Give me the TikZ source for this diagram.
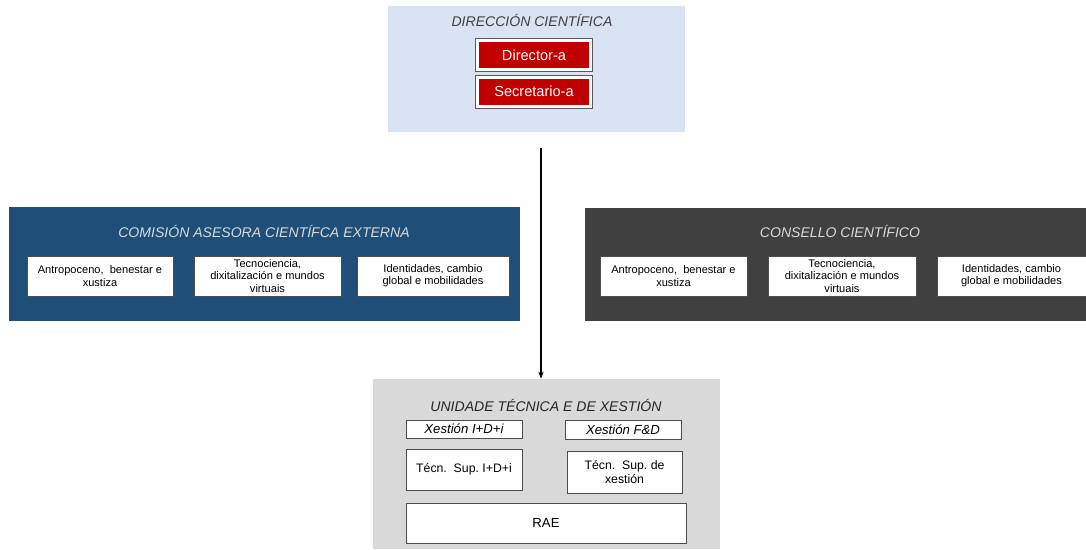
\documentclass[tikz,border=0pt]{standalone}
\usepackage{fontspec}
\setmainfont{Liberation Sans}
\usetikzlibrary{arrows.meta}
\definecolor{dirblue}{HTML}{DAE3F3}
\definecolor{comblue}{HTML}{1F4E79}
\definecolor{conegray}{HTML}{404040}
\definecolor{unitgray}{HTML}{D9D9D9}
\definecolor{chairred}{HTML}{C00000}
\begin{document}
\begin{tikzpicture}[
  x=0.02cm, y=-0.02cm,
  panel/.style={rectangle, inner sep=0pt},
  paneltitle/.style={font=\itshape\fontsize{8}{9.5}\selectfont},
  chair/.style={rectangle, fill=chairred, draw=white, line width=0.06cm,
    preaction={draw=gray!70!black, line width=0.1cm},
    minimum width=2.26cm, minimum height=0.58cm, text=white,
    font=\fontsize{8.3}{9.5}\selectfont},
  area/.style={rectangle, draw=gray!60!black, fill=white, line width=0.5pt,
    minimum width=2.94cm, minimum height=0.8cm, align=center, inner sep=0.5pt,
    font=\fontsize{6.3}{6.9}\selectfont},
  staff/.style={rectangle, draw=gray!60!black, fill=white, line width=0.5pt,
    minimum width=2.32cm, align=center, inner sep=1pt,
    font=\fontsize{7}{8.2}\selectfont}
]
\useasboundingbox (0,0) rectangle (1086,549);

% direccion
\node[panel, fill=dirblue, minimum width=5.94cm, minimum height=2.52cm] (dir) at (536.5,69) {};
\node[paneltitle, text=conegray] (dirtitle) at (532,20) {DIRECCIÓN CIENTÍFICA};
\node[chair] (director) at (534,55) {Director-a};
\node[chair] (secretario) at (534,91.5) {Secretario-a};

% comision
\node[panel, fill=comblue, minimum width=10.22cm, minimum height=2.28cm] (com) at (264.5,264) {};
\node[paneltitle, text=unitgray] (comtitle) at (264,231) {COMISIÓN ASESORA CIENTÍFCA EXTERNA};
\node[area, minimum width=2.92cm] (comant) at (100,276) {Antropoceno,\ \ benestar e\\xustiza};
\node[area] (comtec) at (267.5,276) {Tecnociencia,\\dixitalización e mundos\\virtuais};
\node[area, minimum width=3.04cm] (comide) at (433,276) {Identidades, cambio\\global e mobilidades};

% consello
\node[panel, fill=conegray, minimum width=10.02cm, minimum height=2.26cm] (con) at (835.5,264.5) {};
\node[paneltitle, text=unitgray] (contitle) at (840,231) {CONSELLO CIENTÍFICO};
\node[area] (conant) at (673.5,276) {Antropoceno,\ \ benestar e\\xustiza};
\node[area, minimum width=2.96cm] (contec) at (842,276) {Tecnociencia,\\dixitalización e mundos\\virtuais};
\node[area, minimum width=2.98cm] (conide) at (1011.5,276) {Identidades, cambio\\global e mobilidades};

% unidade
\node[panel, fill=unitgray, minimum width=6.94cm, minimum height=3.4cm] (ute) at (546.5,464) {};
\node[paneltitle, text=black!85] (utetitle) at (546,405) {UNIDADE TÉCNICA E DE XESTIÓN};
\node[staff, minimum height=0.36cm, inner sep=0pt, font=\itshape\fontsize{7.5}{8.5}\selectfont] (xid) at (464,429) {Xestión I+D+i};
\node[staff, minimum height=0.38cm, inner sep=0pt, font=\itshape\fontsize{7.5}{8.5}\selectfont] (xfd) at (623,429.5) {Xestión F\&D};
\node[staff, minimum height=0.82cm] (tid) at (464,469.5) {Técn.\ \ Sup.\ I+D+i};
\node[staff, minimum width=2.3cm, minimum height=0.84cm] (tx) at (624.5,472) {Técn.\ \ Sup.\ de\\xestión};
\node[staff, minimum width=5.6cm, minimum height=0.8cm, font=\fontsize{7.5}{8.5}\selectfont] (rae) at (546,523) {RAE};

\coordinate (flow) at (541,148);
\draw[-{Stealth[length=4pt,width=3pt]}, line width=0.6pt] (flow) -- (flow |- ute.north);
\end{tikzpicture}
\end{document}
